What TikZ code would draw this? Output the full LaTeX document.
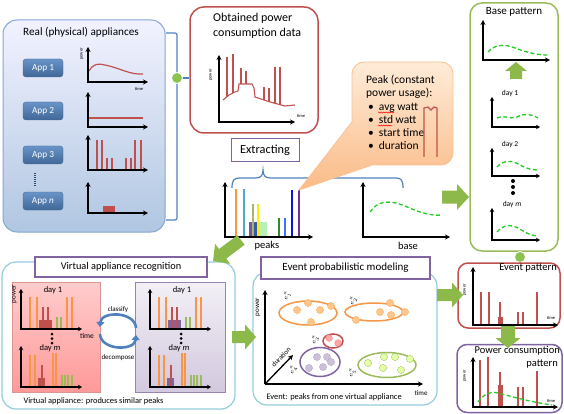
\documentclass[tikz,border=0pt]{standalone}
\usepackage{fontspec}
\setmainfont{Carlito}
\usetikzlibrary{arrows.meta,decorations.pathmorphing}
\definecolor{rd}{HTML}{C0504D}
\definecolor{pu}{HTML}{8064A2}
\definecolor{gr}{HTML}{9BBB59}
\definecolor{lb}{HTML}{93CDDD}
\definecolor{bl}{HTML}{4F81BD}
\definecolor{org}{HTML}{F79646}
\definecolor{dgr}{HTML}{22CC22}
\definecolor{arrg}{HTML}{8DB84A}
\definecolor{teal}{HTML}{4BACC6}
\definecolor{oliv}{HTML}{A4B86A}
\definecolor{yel}{HTML}{FFEE00}
\definecolor{dkg}{HTML}{2E8B2E}
\definecolor{mbl}{HTML}{4070FF}
\definecolor{dbl}{HTML}{1010E0}
\definecolor{ppl}{HTML}{7030A0}
\definecolor{lgr}{HTML}{B8F0B8}
\definecolor{rbox}{HTML}{7A52A8}
\definecolor{bbox}{HTML}{3A5AA8}
\newcommand\myax[5][axis]{\draw[#1] (#2,#3) -- (#2,#4) -- (#5,#4);}
\newcommand\pk[4][]{\draw[line width=1.3pt,#1] (#2,#4) -- (#2,#3);}
\newcommand\garrow[7]{\begin{scope}[shift={(#1,#2)},rotate=#3]
  \fill[arrg] (0,-#5) -- (#4-#7,-#5) -- (#4-#7,-#6) -- (#4,0) -- (#4-#7,#6) -- (#4-#7,#5) -- (0,#5) -- cycle;
 \end{scope}}
\newcommand\vcharts[2]{%
 \fill[#1] (39,320) rectangle (52,328.5);
 \pk[org]{30}{297}{328} \pk[org]{37}{297}{328} \pk[org]{67}{297}{328} \pk[org]{72}{297}{328}
 \pk[rd]{43}{307}{328} \pk[rd]{48}{307}{328}
 \pk[gr]{57}{317}{328} \pk[gr]{61}{317}{328}
 \myax[saxis]{21}{289}{329}{82}
 \node[daylab] (da#2) at (53,290) {day 1};
 \node[daylab] (dm#2) at (50,348) {day \textit{m}};
 \fill (52,334) circle[radius=1.5pt] (52,338.5) circle[radius=1.5pt] (52,343) circle[radius=1.5pt];
 \fill[#1] (38,378) rectangle (45,386.5);
 \pk[org]{30}{355}{386} \pk[org]{35}{355}{386} \pk[org]{53}{353}{386} \pk[org]{56}{353}{386}
 \pk[rd]{42}{365}{386}
 \pk[gr]{62}{375}{386} \pk[gr]{65}{375}{386} \pk[gr]{68}{375}{386} \pk[gr]{72}{375}{386}
 \myax[saxis]{21}{346}{387}{82}
}
\begin{document}
\begin{tikzpicture}[x=1pt,y=-1pt,
  font=\fontsize{10.5}{12}\selectfont,
  axis/.style={line width=1.3pt,{Stealth[length=5pt,width=5pt]}-{Stealth[length=5pt,width=5pt]}},
  saxis/.style={line width=1.1pt,{Stealth[length=4pt,width=4.5pt]}-{Stealth[length=4pt,width=4.5pt]}},
  oaxis/.style={line width=1.3pt,-{Stealth[length=5pt,width=5pt]}},
  tiny/.style={font=\fontsize{4.5}{5}\selectfont},
  small/.style={font=\fontsize{8.4}{10}\selectfont},
  daylab/.style={font=\fontsize{8.5}{10}\selectfont, inner sep=0pt},
  appbtn/.style={draw=bl!80!black, top color=bl!85!white, bottom color=bl!80!black, rounded corners=3pt, minimum width=40pt, minimum height=18pt, text=white, font=\fontsize{9.3}{10}\selectfont},
  gdash/.style={dgr, line width=1.3pt, dash pattern=on 4pt off 2.5pt},
  gdot/.style={circle, fill=gr!90!green, draw=white, line width=0.8pt, inner sep=0pt, minimum size=11pt},
  ttl/.style={draw=pu, line width=1.2pt, fill=white, inner sep=0pt},
  carr/.style={bl, line width=2.6pt, -{Triangle[length=5pt,width=8pt]}},
  ctxt/.style={anchor=base west, inner sep=0pt, font=\fontsize{11.5}{13}\selectfont},
  elab/.style={rotate=70, font=\fontsize{7.5}{8}\selectfont, inner sep=0pt}
]
\useasboundingbox (0,0) rectangle (564,414);

% ---------------- Real appliances -----------------
\node[draw=bl!70, line width=1pt, rounded corners=14pt, top color=blue!5!white, bottom color=bl!45!white, minimum width=162pt, minimum height=212pt] (real) at (84,126) {};
\node[font=\fontsize{11.2}{13}\selectfont] (realt) at (81,32) {Real (physical) appliances};
\node[appbtn] (a1) at (43,68) {App 1};
\node[appbtn] (a2) at (43,111) {App 2};
\node[appbtn] (a3) at (43,155) {App 3};
\node[appbtn] (an) at (43,201) {App \textit{n}};
\draw[line width=1.2pt, dash pattern=on 1pt off 1pt, bl!60!black] (a3.south -| 35,0) ++(0,9) -- ++(0,13);
% chart 1
\draw[rd, line width=1.2pt] (89,71) .. controls (93,64) and (98,63) .. (105,65) .. controls (120,68) and (130,75) .. (143,74);
\myax{88}{47}{82}{148}
\node[tiny, rotate=90] (p1) at (82,54) {power};
\node[tiny] (tm1) at (139,89) {time};
% chart 2
\draw[rd, line width=1.2pt] (89,118) -- (143,118);
\myax{88}{92}{127}{148}
% chart 3
\pk[rd]{97}{140}{169} \pk[rd]{102}{140}{169} \pk[rd]{107}{158}{169} \pk[rd]{112}{158}{169}
\pk[rd]{126}{158}{169} \pk[rd]{131}{158}{169} \pk[rd]{135}{140}{169} \pk[rd]{141}{140}{169}
\myax{88}{135}{170}{148}
% chart n
\fill[rd] (103,206) rectangle (115,212.5);
\myax{88}{182}{213}{148}
% brace
\draw[bl, line width=1.2pt, rounded corners=2pt] (166,33) -- (177,33) -- (177,220) -- (166,220);

% ---------------- Obtained data -----------------
\node[draw=rd, line width=1.5pt, rounded corners=14pt, fill=white, minimum width=128pt, minimum height=126pt] (obt) at (254,70) {};
\node[anchor=base west, inner sep=0pt, font=\fontsize{12}{14}\selectfont] (obt1) at (213,22) {Obtained power};
\node[anchor=base west, inner sep=0pt, font=\fontsize{12}{14}\selectfont] (obt2) at (213,36.5) {consumption data};
\draw[rd, line width=1.1pt] (223,100) -- (229,95) -- (235,92) -- (238,91) -- (239,84) -- (252,84) -- (254,88) -- (255,97) -- (270,102) -- (285,106) -- (295,105);
\pk[rd, line width=1.1pt]{227}{57}{97} \pk[rd, line width=1.1pt]{233}{54}{93}
\pk[rd, line width=1.1pt]{241}{68}{84} \pk[rd, line width=1.1pt]{246}{71}{84}
\pk[rd, line width=1.1pt]{264}{87}{100} \pk[rd, line width=1.1pt]{269}{88}{102}
\pk[rd, line width=1.1pt]{275}{67}{103} \pk[rd, line width=1.1pt]{280}{67}{105}
\myax{219}{55}{122}{295}
\node[tiny, rotate=90] (p2) at (211,75) {power};
\node[tiny] (tm2) at (301,116) {time};
\draw[bl, line width=1.2pt] (177,78) -- (obt.west |- 0,78);
\node[gdot] (gd1) at (177,78) {};

% ---------------- Extracting -----------------
\node[ttl, line width=1pt, minimum width=68pt, minimum height=23pt, font=\fontsize{12.3}{14}\selectfont] (ext) at (265,150.5) {Extracting};
\draw[bl, line width=1.2pt] (232,188) .. controls (232,180) and (234,178) .. (240,178) -- (256,178) .. controls (261,178) and (263,175) .. (263,170) .. controls (263,175) and (265,178) .. (270,178) -- (396,178) .. controls (401,178) and (403,180) .. (403,188);
% peaks chart
\fill[rbox] (249,222) rectangle (253,236.5);
\fill[bbox] (253,222) rectangle (258,236.5);
\fill[lgr] (258,222) rectangle (267,236.5);
\pk[org]{236}{189}{236} \pk[teal]{244}{189}{236}
\pk[oliv]{253}{204}{236} \pk[yel]{258}{204}{236}
\pk[dkg]{279}{218}{236} \pk[mbl]{285}{218}{236}
\pk[dbl]{292}{190}{236} \pk[ppl]{299}{190}{236}
\myax{225}{182}{237}{313}
\node (peaks) at (267,246) {peaks};
% base chart
\draw[gdash] (370,212) .. controls (378,200) and (390,200) .. (405,206) .. controls (420,213) and (432,216) .. (442,215);
\myax{363}{182}{237}{450}
\node (base) at (408,246) {base};

% ---------------- Callout -----------------
\path[draw=org!60, line width=0.8pt, top color=orange!15!white, bottom color=org!65!white] (352,122) [rounded corners=12pt] -- (352,62) -- (453,62) -- (453,165) [sharp corners] -- (372,165) -- (299,190) -- cycle;
\node[ctxt] (c1) at (366,84) {Peak (constant};
\node[ctxt] (c2) at (366,97) {power usage):};
\node[ctxt] (c3) at (368,110.5) {\textbullet\hspace{5pt}avg watt};
\node[ctxt] (c4) at (368,123.5) {\textbullet\hspace{5pt}std watt};
\node[ctxt] (c5) at (368,136.5) {\textbullet\hspace{5pt}start time};
\node[ctxt] (c6) at (368,149.5) {\textbullet\hspace{5pt}duration};
\draw[red, line width=0.5pt, decorate, decoration={snake, amplitude=0.6pt, segment length=2.5pt}] (378,112.5) -- (394,112.5);
\draw[red, line width=0.5pt, decorate, decoration={snake, amplitude=0.6pt, segment length=2.5pt}] (378,125.5) -- (392,125.5);
\draw[rd, line width=1.2pt] (424,157) -- (424,108) -- (428,107) -- (431,110) -- (434,107) -- (437,108) -- (437,157);

% ---------------- Base pattern -----------------
\node[draw=gr, line width=1.5pt, rounded corners=12pt, fill=white, minimum width=88pt, minimum height=248pt] (bpat) at (514,127) {};
\node[font=\fontsize{11}{12}\selectfont] (bpt) at (514,12) {Base pattern};
\draw[gdash] (488,52) .. controls (495,44) and (505,44) .. (515,48) .. controls (528,53) and (538,55) .. (548,55);
\myax{483}{20}{60}{550}
\node[daylab, font=\fontsize{7.5}{9}\selectfont] (bd1) at (510,94) {day 1};
\draw[gdash] (497,118) .. controls (503,114) and (510,120) .. (517,117) .. controls (524,113) and (532,114) .. (538,118);
\myax[saxis]{492}{97}{127}{540}
\node[daylab, font=\fontsize{7.5}{9}\selectfont] (bd2) at (510,145) {day 2};
\draw[gdash] (497,167) .. controls (503,160) and (512,160) .. (520,165) .. controls (527,169) and (533,170) .. (538,170);
\myax[saxis]{492}{148}{176}{540}
\fill (513,181) circle[radius=2pt] (513,187) circle[radius=2pt] (513,193) circle[radius=2pt];
\node[daylab, font=\fontsize{7.5}{9}\selectfont] (bdm) at (512,204) {day \textit{m}};
\draw[gdash] (497,232) .. controls (503,225) and (510,224) .. (518,228) .. controls (526,233) and (532,236) .. (538,236);
\myax[saxis]{492}{208}{240}{540}
\garrow{516}{79}{90}{17}{6}{11}{9}
\node[gdot] (gd2) at (520,257) {};

% ---------------- Virtual appliance recognition -----------------
\node[draw=lb, line width=1.2pt, rounded corners=14pt, fill=white, minimum width=233pt, minimum height=147pt] (vbox) at (118.5,335.5) {};
\node[ttl, minimum width=172pt, minimum height=20pt, font=\fontsize{10.3}{12}\selectfont] (vt) at (121,267) {Virtual appliance recognition};
\node[draw=rd!60, line width=0.8pt, top color=red!20!white, bottom color=red!40!white, minimum width=88pt, minimum height=110pt, inner sep=0pt] (lp) at (56,337) {};
\node[draw=pu!80, line width=0.8pt, top color=pu!10!white, bottom color=pu!35!white, minimum width=90pt, minimum height=110pt, inner sep=0pt] (rp) at (180,337) {};
\vcharts{rd}{L}
\begin{scope}[xshift=129pt]
\vcharts{pu}{R}
\end{scope}
\node[rotate=90, font=\fontsize{7}{8}\selectfont, inner sep=0pt] (vp) at (14.5,294) {power};
\node[font=\fontsize{7.5}{8}\selectfont, inner sep=0pt] (vtm) at (87,336) {time};
\draw[carr] (136,328) .. controls (135,311) and (101,311) .. (100,327);
\draw[carr] (100,334) .. controls (101,351) and (135,351) .. (136,335);
\node[font=\fontsize{7}{8}\selectfont] (cls) at (118,310) {classify};
\node[font=\fontsize{7}{8}\selectfont] (dec) at (118,358) {decompose};
\node[small, anchor=west] (vnote) at (20,401) {Virtual appliance: produces similar peaks};

% ---------------- Event probabilistic modeling -----------------
\node[draw=lb, line width=1.2pt, rounded corners=14pt, fill=white, minimum width=184pt, minimum height=133pt] (ebox) at (345,338.5) {};
\node[ttl, minimum width=169pt, minimum height=22pt, font=\fontsize{11}{13}\selectfont] (et) at (345.5,268) {Event probabilistic modeling};
\draw[org, line width=1.5pt] (308,313) ellipse[x radius=29pt, y radius=12pt];
\draw[org, line width=1.5pt] (374,312) ellipse[x radius=29pt, y radius=9pt];
\draw[rd, line width=1.5pt] (333,341) ellipse[x radius=10pt, y radius=7pt];
\draw[pu, line width=1.5pt] (320,362) ellipse[x radius=20pt, y radius=14.5pt];
\draw[gr, line width=1.5pt] (387,365) ellipse[x radius=29pt, y radius=12.5pt];
\foreach \p in {(297,310),(308,303),(320,310),(331,306),(311,322),(356,320),(380,312),(390,303),(391,315),(405,312)}
  \fill[orange!45!white, draw=orange!70!white, line width=0.3pt] \p circle[radius=3.6pt];
\foreach \p in {(329,338),(338,343)}
  \fill[red!35!white, draw=red!55!white, line width=0.3pt] \p circle[radius=3.4pt];
\foreach \p in {(317,357),(327,357),(309,368),(323,367),(331,362)}
  \fill[pu!40!white, draw=pu!60!white, line width=0.3pt] \p circle[radius=3.6pt];
\foreach \p in {(384,357),(395,357),(410,359),(368,363),(383,368),(401,370)}
  \fill[green!30!yellow!35!white, draw=gr, line width=0.3pt] \p circle[radius=3.6pt];
\draw[oaxis] (265,384) -- (265,290);
\draw[oaxis] (265,384) -- (423,384);
\draw[oaxis] (265,384) -- (293,355);
\node[rotate=90, font=\fontsize{7}{8}\selectfont, inner sep=0pt] (ep) at (258,307) {power};
\node[rotate=46, font=\fontsize{7}{8}\selectfont, inner sep=0pt] (edur) at (281,357) {duration};
\node[font=\fontsize{7}{8}\selectfont, inner sep=0pt] (etm) at (421,393) {time};
\node[elab] (e1) at (287,296) {$e_1^a$};
\node[elab] (e2) at (353,301) {$e_2^a$};
\node[elab] (e3) at (315,340) {$e_3^a$};
\node[elab] (e4) at (293,370) {$e_4^a$};
\node[elab] (e5) at (352,373) {$e_5^a$};
\node[small, anchor=west] (enote) at (263,397) {Event: peaks from one virtual appliance};

% ---------------- Event pattern -----------------
\node[draw=rd, line width=1.5pt, rounded corners=10pt, fill=white, minimum width=102pt, minimum height=65pt] (epat) at (509,295.5) {};
\node[anchor=east, inner sep=0pt] (ept) at (557,268) {Event pattern};
\fill[rd] (498,317) rectangle (503,324.5);
\pk[rd]{481}{292}{324} \pk[rd]{489}{292}{324} \pk[rd]{500}{302}{324}
\pk[rd]{518}{312}{324} \pk[rd]{523}{312}{324} \pk[rd]{537}{292}{324}
\myax{473}{267}{325}{558}
\node[tiny, rotate=90] (p3) at (465,290) {power};
\node[tiny] (tm3) at (551,318) {time};

% ---------------- Power consumption pattern -----------------
\node[draw=pu, line width=1.5pt, rounded corners=10pt, fill=white, minimum width=105pt, minimum height=68pt] (pcp) at (509.5,378.5) {};
\fill[rd] (498,385) rectangle (503,406.5);
\pk[rd]{480}{360}{406} \pk[rd]{488}{357}{406} \pk[rd]{500}{372}{406}
\pk[rd]{518}{387}{406} \pk[rd]{523}{387}{406} \pk[rd]{537}{371}{406}
\draw[gdash] (478,402) .. controls (484,394) and (490,391) .. (498,393) .. controls (510,396) and (530,402) .. (552,405);
\myax{473}{357}{407}{558}
\node[anchor=east, inner sep=0pt] (pct1) at (560,351) {Power consumption};
\node[anchor=east, inner sep=0pt] (pct2) at (558,364) {pattern};
\node[tiny, rotate=90] (p4) at (465,376) {power};
\node[tiny] (tm4) at (551,401) {time};

% ---------------- Block arrows -----------------
\garrow{442}{197}{0}{27}{6.5}{13}{12}
\garrow{241}{240}{217}{35}{6}{12.5}{12}
\garrow{232}{337}{0}{24}{6}{12.5}{11}
\garrow{437}{295}{0}{26}{6}{12.5}{11}
\garrow{508}{326}{-90}{22}{7}{12.5}{10}
\end{tikzpicture}
\end{document}
